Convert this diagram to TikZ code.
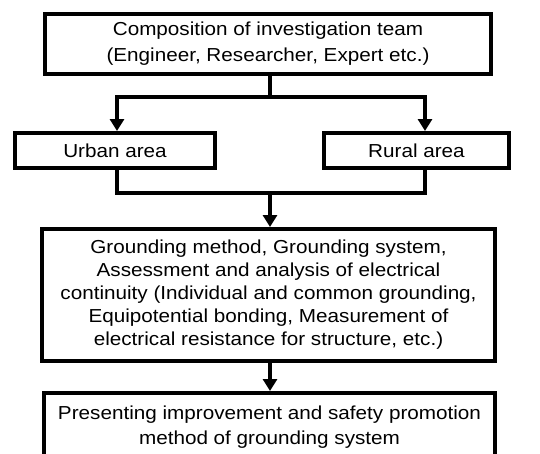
\documentclass[tikz,border=0pt]{standalone}
\usepackage{fontspec}
\setmainfont[FakeStretch=1.1]{Liberation Sans}
\usetikzlibrary{arrows.meta,calc}
\begin{document}
\begin{tikzpicture}[x=1pt,y=-1pt,
  box/.style={draw, line width=4pt, align=center, inner sep=0pt, font=\fontsize{18.8}{23}\selectfont},
  conn/.style={line width=4pt},
  arr/.style={conn, -{Triangle[width=14pt,length=12pt]}}]
\useasboundingbox (0,0) rectangle (540,453);
\clip (0,0) rectangle (540,453);
\node[box, minimum width=446pt, minimum height=60pt, font=\fontsize{18.8}{26.5}\selectfont] (top) at (268,43.5)
  {Composition of investigation team\\(Engineer, Researcher, Expert etc.)};
\node[box, minimum width=200pt, minimum height=35pt] (urban) at (115,150.5) {Urban area};
\node[box, minimum width=185pt, minimum height=35pt] (rural) at (416.5,150.5) {Rural area};
\node[box, minimum width=453pt, minimum height=132pt] (mid) at (268.5,295)
  {Grounding method, Grounding system,\\Assessment and analysis of electrical\\continuity (Individual and common grounding,\\Equipotential bonding, Measurement of\\electrical resistance for structure, etc.)};
\node[box, minimum width=451pt, minimum height=68pt, font=\fontsize{18.8}{25}\selectfont] (bot) at (269.5,427)
  {Presenting improvement and safety promotion\\method of grounding system};
\coordinate (j1) at (270,97);
\coordinate (uN) at (117,131);
\coordinate (rN) at (425,131);
\coordinate (uS) at (117,170);
\coordinate (rS) at (425,170);
\coordinate (j2) at (270,193);
\draw[conn] (top.south -| j1) -- (j1);
\draw[arr] (j1) -| (uN);
\draw[arr] (j1) -| (rN);
\draw[conn] (uS) |- (j2) -| (rS);
\draw[arr] (j2) -- (mid.north -| j2);
\draw[arr] (mid.south -| j2) -- (bot.north -| j2);
\end{tikzpicture}
\end{document}
